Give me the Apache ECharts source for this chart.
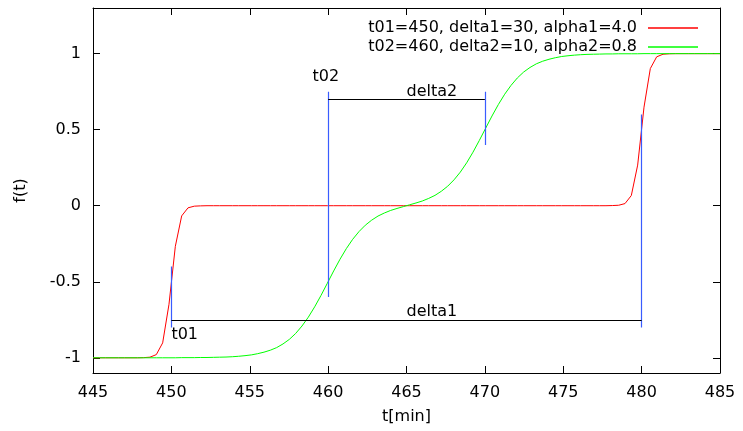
<!DOCTYPE html>
<html>
<head>
<meta charset="utf-8">
<script src="https://cdn.jsdelivr.net/npm/echarts@6/dist/echarts.min.js"></script>
<style>
html,body{margin:0;padding:0;background:#fff;}
#chart{width:743px;height:431px;}
</style>
</head>
<body>
<div id="chart"></div>
<script>
// sample times (min)
const tSamples = [
445.000,445.404,445.808,446.212,446.616,447.020,447.424,447.828,448.232,448.636,
449.040,449.444,449.848,450.253,450.657,451.061,451.465,451.869,452.273,452.677,
453.081,453.485,453.889,454.293,454.697,455.101,455.505,455.909,456.313,456.717,
457.121,457.525,457.929,458.333,458.737,459.141,459.545,459.949,460.354,460.758,
461.162,461.566,461.970,462.374,462.778,463.182,463.586,463.990,464.394,464.798,
465.202,465.606,466.010,466.414,466.818,467.222,467.626,468.030,468.434,468.838,
469.242,469.646,470.051,470.455,470.859,471.263,471.667,472.071,472.475,472.879,
473.283,473.687,474.091,474.495,474.899,475.303,475.707,476.111,476.515,476.919,
477.323,477.727,478.131,478.535,478.939,479.343,479.747,480.152,480.556,480.960,
481.364,481.768,482.172,482.576,482.980,483.384,483.788,484.192,484.596,485.000
];
// f(t), t01=450, delta1=30, alpha1=4.0
const redValues = [
-1.000,-1.000,-1.000,-1.000,-1.000,-1.000,-1.000,-1.000,-0.999,-0.996,
-0.979,-0.902,-0.648,-0.267,-0.067,-0.014,-0.003,-0.001,0.000,0.000,
0.000,0.000,0.000,0.000,0.000,0.000,0.000,0.000,0.000,0.000,
0.000,0.000,0.000,0.000,0.000,0.000,0.000,0.000,0.000,0.000,
0.000,0.000,0.000,0.000,0.000,0.000,0.000,0.000,0.000,0.000,
0.000,0.000,0.000,0.000,0.000,0.000,0.000,0.000,0.000,0.000,
0.000,0.000,0.000,0.000,0.000,0.000,0.000,0.000,0.000,0.000,
0.000,0.000,0.000,0.000,0.000,0.000,0.000,0.000,0.000,0.000,
0.000,0.000,0.001,0.003,0.014,0.067,0.267,0.648,0.902,0.979,
0.996,0.999,1.000,1.000,1.000,1.000,1.000,1.000,1.000,1.000
];
// f(t), t02=460, delta2=10, alpha2=0.8
const greenValues = [
-1.000,-1.000,-1.000,-1.000,-1.000,-1.000,-1.000,-1.000,-1.000,-1.000,
-1.000,-1.000,-1.000,-1.000,-0.999,-0.999,-0.999,-0.998,-0.998,-0.997,
-0.996,-0.995,-0.993,-0.990,-0.986,-0.981,-0.973,-0.963,-0.950,-0.933,
-0.909,-0.879,-0.840,-0.791,-0.733,-0.665,-0.590,-0.510,-0.429,-0.352,
-0.282,-0.221,-0.170,-0.128,-0.095,-0.068,-0.048,-0.031,-0.018,-0.006,
0.006,0.018,0.031,0.048,0.068,0.095,0.128,0.170,0.221,0.282,
0.352,0.429,0.510,0.590,0.665,0.733,0.791,0.840,0.879,0.909,
0.933,0.950,0.963,0.973,0.981,0.986,0.990,0.993,0.995,0.996,
0.997,0.998,0.998,0.999,0.999,0.999,0.999,1.000,1.000,1.000,
1.000,1.000,1.000,1.000,1.000,1.000,1.000,1.000,1.000,1.000
];
const seriesNames = ['t01=450, delta1=30, alpha1=4.0', 't02=460, delta2=10, alpha2=0.8'];
const yTickValues = [-1, -0.5, 0, 0.5, 1];

// annotation markers
const vMarkX    = [450, 460, 470, 480];
const vMarkLow  = [-0.8, -0.6, 0.4, -0.8];
const vMarkHigh = [-0.4, 0.75, 0.75, 0.6];
const hMarkFrom = [450, 460];
const hMarkTo   = [480, 470];
const hMarkY    = [-0.75, 0.7];
const noteText  = ['t01', 't02', 'delta1', 'delta2'];
const noteX     = [450, 459, 465, 465];
const noteY     = [-0.85, 0.85, -0.70, 0.75];

const FONT = 'DejaVu Sans';
const chart = echarts.init(document.getElementById('chart'), null, {renderer: 'canvas'});

const axisCommon = {
  axisLine: {show: true, onZero: false, lineStyle: {color: '#000', width: 1}},
  axisTick: {show: true, inside: true, length: 7, lineStyle: {color: '#000', width: 1}},
  splitLine: {show: false}
};

const option = {
  animation: false,
  backgroundColor: '#fff',
  textStyle: {fontFamily: FONT},
  grid: {left: 93, right: 23, top: 8, bottom: 58, containLabel: false},
  legend: {
    data: seriesNames,
    orient: 'vertical',
    right: 40,
    top: 15,
    align: 'right',
    itemWidth: 50,
    itemHeight: 1.5,
    itemGap: 3,
    icon: 'rect',
    textStyle: {fontFamily: FONT, fontSize: 16, color: '#000', lineHeight: 16, padding: [0, 6, 0, 0]}
  },
  xAxis: [
    Object.assign({}, axisCommon, {
      type: 'value', position: 'bottom', min: 445, max: 485, interval: 5,
      name: 't[min]', nameLocation: 'middle', nameGap: 36,
      nameTextStyle: {fontFamily: FONT, fontSize: 16, color: '#000'},
      axisLabel: {fontFamily: FONT, fontSize: 16, color: '#000', margin: 12}
    }),
    Object.assign({}, axisCommon, {
      type: 'value', position: 'top', min: 445, max: 485, interval: 5,
      axisLabel: {show: false}
    })
  ],
  yAxis: [
    Object.assign({}, axisCommon, {
      type: 'value', position: 'left', min: -1.1, max: 1.3,
      name: 'f(t)', nameLocation: 'middle', nameGap: 64, nameRotate: 90,
      nameTextStyle: {fontFamily: FONT, fontSize: 16, color: '#000'},
      axisTick: Object.assign({}, axisCommon.axisTick, {customValues: yTickValues}),
      axisLabel: {fontFamily: FONT, fontSize: 16, color: '#000', margin: 12, customValues: yTickValues}
    }),
    Object.assign({}, axisCommon, {
      type: 'value', position: 'right', min: -1.1, max: 1.3,
      axisTick: Object.assign({}, axisCommon.axisTick, {customValues: yTickValues}),
      axisLabel: {show: false, customValues: yTickValues}
    })
  ],
  series: [
    {
      name: seriesNames[0], type: 'line', symbol: 'none', smooth: false,
      data: tSamples.map((t, i) => [t, redValues[i]]),
      lineStyle: {color: '#ff0000', width: 1}, itemStyle: {color: '#ff0000'}, z: 3
    },
    {
      name: seriesNames[1], type: 'line', symbol: 'none', smooth: false,
      data: tSamples.map((t, i) => [t, greenValues[i]]),
      lineStyle: {color: '#00ff00', width: 1}, itemStyle: {color: '#00ff00'}, z: 3
    },
    {
      name: 'vmarks', type: 'lines', coordinateSystem: 'cartesian2d', z: 4,
      lineStyle: {color: '#3a5cff', width: 1.2, opacity: 1},
      data: vMarkX.map((x, i) => ({coords: [[x, vMarkLow[i]], [x, vMarkHigh[i]]]}))
    },
    {
      name: 'hmarks', type: 'lines', coordinateSystem: 'cartesian2d', z: 4,
      lineStyle: {color: '#000', width: 1, opacity: 1},
      data: hMarkY.map((y, i) => ({coords: [[hMarkFrom[i], y], [hMarkTo[i], y]]}))
    },
    {
      name: 'notes', type: 'scatter', symbolSize: 0, z: 5, silent: true,
      itemStyle: {opacity: 1},
      data: noteText.map((s, i) => ({name: s, value: [noteX[i], noteY[i]]})),
      label: {
        show: true, position: 'right', distance: 0, formatter: p => p.name,
        fontFamily: FONT, fontSize: 16, color: '#000', opacity: 1,
        textBorderWidth: 0
      }
    }
  ]
};
chart.setOption(option);
</script>
</body>
</html>
